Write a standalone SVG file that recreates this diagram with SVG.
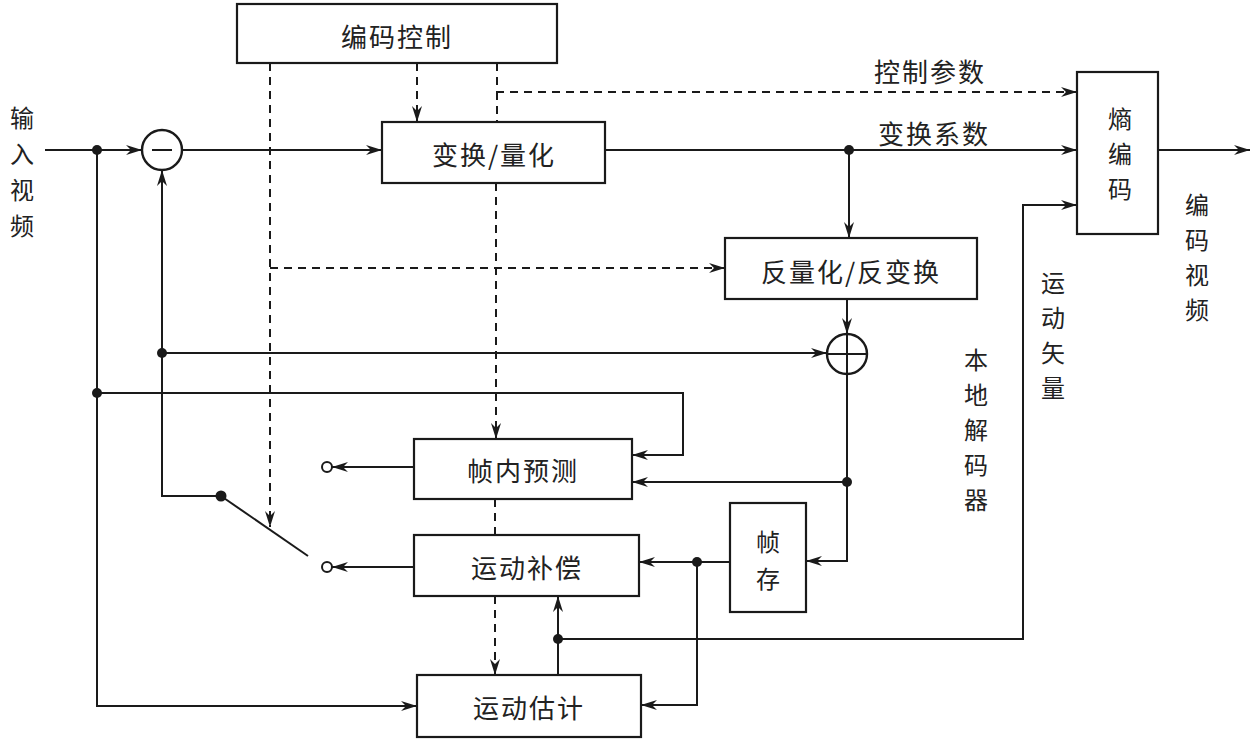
<svg xmlns="http://www.w3.org/2000/svg" width="1254" height="742" viewBox="0 0 1254 742">
<defs>
<marker id="ar" viewBox="0 0 16 10" refX="16" refY="5" markerWidth="16" markerHeight="10" markerUnits="userSpaceOnUse" orient="auto">
<path d="M0,0 L16,5 L0,10 L5,5 z" fill="#1a1a1a"/>
</marker>
<style>
.box{fill:#fff;stroke:#1a1a1a;stroke-width:2.2}
.ln{fill:none;stroke:#1a1a1a;stroke-width:2}
.ds{fill:none;stroke:#1a1a1a;stroke-width:2;stroke-dasharray:8 6}
.t{font-family:"Noto Sans CJK SC","Noto Sans",sans-serif;font-size:26px;fill:#222;text-anchor:middle;dominant-baseline:central;letter-spacing:2px}
.v{font-size:24px;letter-spacing:0}
.dot{fill:#1a1a1a}
.oc{fill:#fff;stroke:#1a1a1a;stroke-width:2}
</style>
</defs>

<g id="connectors">
<line class="ln" x1="45" y1="150" x2="142" y2="150" marker-end="url(#ar)"/>
<line class="ln" x1="182" y1="150" x2="382" y2="150" marker-end="url(#ar)"/>
<line class="ln" x1="605" y1="150" x2="1077" y2="150" marker-end="url(#ar)"/>
<line class="ln" x1="849" y1="150" x2="849" y2="238" marker-end="url(#ar)"/>
<line class="ln" x1="1158" y1="150" x2="1250" y2="150" marker-end="url(#ar)"/>
<line class="ln" x1="847" y1="299" x2="847" y2="334" marker-end="url(#ar)"/>
<polyline class="ln" points="97,150 97,706 417,706" marker-end="url(#ar)"/>
<polyline class="ln" points="97,393 683,393 683,455 632,455" marker-end="url(#ar)"/>
<polyline class="ln" points="221,496 162,496 162,170" marker-end="url(#ar)"/>
<line class="ln" x1="162" y1="353" x2="827" y2="353" marker-end="url(#ar)"/>
<line class="ln" x1="221" y1="496" x2="308" y2="556"/>
<polyline class="ln" points="847,374 847,561 806,561" marker-end="url(#ar)"/>
<line class="ln" x1="847" y1="482" x2="632" y2="482" marker-end="url(#ar)"/>
<line class="ln" x1="730" y1="562" x2="639" y2="562" marker-end="url(#ar)"/>
<polyline class="ln" points="697,562 697,705 641,705" marker-end="url(#ar)"/>
<line class="ln" x1="558" y1="675" x2="558" y2="596" marker-end="url(#ar)"/>
<polyline class="ln" points="558,639 1023,639 1023,205 1077,205" marker-end="url(#ar)"/>
<line class="ln" x1="414" y1="467" x2="332" y2="467" marker-end="url(#ar)"/>
<line class="ln" x1="414" y1="567" x2="332" y2="567" marker-end="url(#ar)"/>
<line class="ds" x1="417" y1="63" x2="417" y2="122" marker-end="url(#ar)"/>
<polyline class="ds" points="497,63 497,92 1077,92" marker-end="url(#ar)"/>
<line class="ds" x1="497" y1="92" x2="497" y2="122"/>
<line class="ds" x1="496" y1="183" x2="496" y2="439" marker-end="url(#ar)"/>
<line class="ds" x1="495" y1="499" x2="495" y2="535"/>
<line class="ds" x1="495" y1="596" x2="495" y2="675" marker-end="url(#ar)"/>
<line class="ds" x1="270" y1="63" x2="270" y2="527" marker-end="url(#ar)"/>
<line class="ds" x1="270" y1="268" x2="725" y2="268" marker-end="url(#ar)"/>
<circle class="dot" cx="97" cy="150" r="5"/>
<circle class="dot" cx="849" cy="150" r="5"/>
<circle class="dot" cx="162" cy="353" r="5"/>
<circle class="dot" cx="97" cy="393" r="5"/>
<circle class="dot" cx="221" cy="496" r="5.5"/>
<circle class="dot" cx="847" cy="482" r="5"/>
<circle class="dot" cx="697" cy="562" r="5"/>
<circle class="dot" cx="558" cy="639" r="5"/>
<circle class="oc" cx="327" cy="467" r="5"/>
<circle class="oc" cx="327" cy="567" r="5"/>
</g>

<g id="sub">
<circle cx="162" cy="150" r="20" fill="#fff" stroke="#1a1a1a" stroke-width="2.4"/>
<line class="ln" x1="152" y1="150" x2="172" y2="150" stroke-width="2.4"/>
</g>
<g id="add">
<circle cx="847" cy="354" r="20" fill="#fff" stroke="#1a1a1a" stroke-width="2.4"/>
<line class="ln" x1="827" y1="354" x2="867" y2="354"/>
<line class="ln" x1="847" y1="334" x2="847" y2="374"/>
</g>

<g id="ctrl">
<rect class="box" x="237" y="4" width="320" height="59"/>
<text class="t" x="397" y="35">编码控制</text>
</g>
<g id="tq">
<rect class="box" x="382" y="122" width="223" height="61"/>
<text class="t" x="494" y="153">变换/量化</text>
</g>
<g id="iq">
<rect class="box" x="725" y="238" width="252" height="61"/>
<text class="t" x="851" y="270">反量化/反变换</text>
</g>
<g id="entropy">
<rect class="box" x="1077" y="72" width="81" height="162"/>
<text class="t v"><tspan x="1120" y="117">熵</tspan><tspan x="1120" y="152">编</tspan><tspan x="1120" y="187">码</tspan></text>
</g>
<g id="intra">
<rect class="box" x="414" y="439" width="218" height="60"/>
<text class="t" x="523" y="469">帧内预测</text>
</g>
<g id="mc">
<rect class="box" x="414" y="535" width="225" height="61"/>
<text class="t" x="527" y="566">运动补偿</text>
</g>
<g id="me">
<rect class="box" x="417" y="675" width="224" height="62"/>
<text class="t" x="529" y="706">运动估计</text>
</g>
<g id="fs">
<rect class="box" x="730" y="503" width="76" height="109"/>
<text class="t v"><tspan x="768" y="540">帧</tspan><tspan x="768" y="577">存</tspan></text>
</g>

<g id="labels">
<text class="t v"><tspan x="22" y="116">输</tspan><tspan x="22" y="152">入</tspan><tspan x="22" y="188">视</tspan><tspan x="22" y="224">频</tspan></text>
<text class="t" x="930" y="70">控制参数</text>
<text class="t" x="934" y="132">变换系数</text>
<text class="t v"><tspan x="1197" y="203">编</tspan><tspan x="1197" y="238">码</tspan><tspan x="1197" y="273">视</tspan><tspan x="1197" y="308">频</tspan></text>
<text class="t v"><tspan x="1053" y="281">运</tspan><tspan x="1053" y="316">动</tspan><tspan x="1053" y="351">矢</tspan><tspan x="1053" y="386">量</tspan></text>
<text class="t v"><tspan x="976" y="358">本</tspan><tspan x="976" y="393">地</tspan><tspan x="976" y="428">解</tspan><tspan x="976" y="463">码</tspan><tspan x="976" y="498">器</tspan></text>
</g>
</svg>
